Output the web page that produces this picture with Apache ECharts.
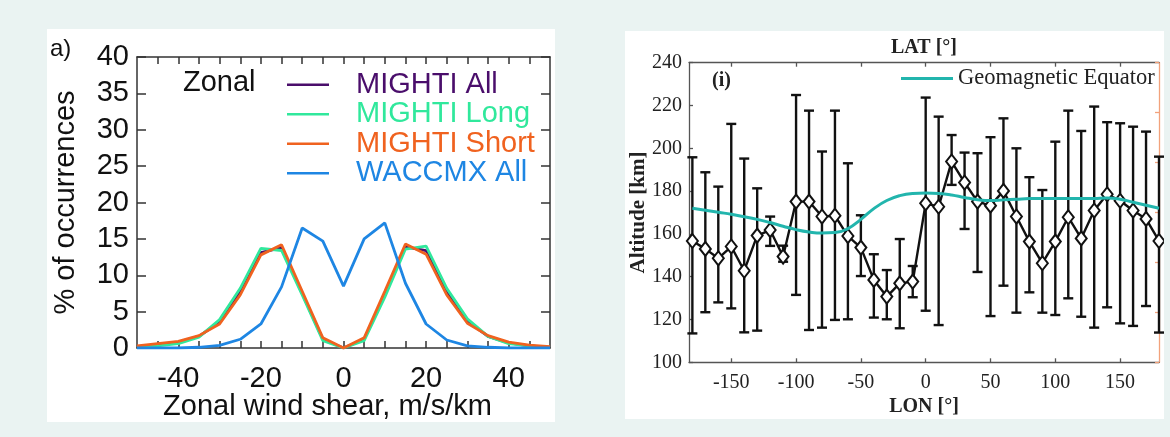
<!DOCTYPE html>
<html>
<head>
<meta charset="utf-8">
<script src="https://cdn.jsdelivr.net/npm/echarts@6/dist/echarts.min.js"></script>
<style>
  html, body { margin: 0; padding: 0; }
  body { width: 1170px; height: 437px; background: #eaf3f2; position: relative; overflow: hidden; }
  .panel { position: absolute; background: #ffffff; }
  #shear { left: 47px; top: 29px; width: 508px; height: 393px; }
  #alt { left: 625px; top: 31px; width: 539px; height: 388px; }
</style>
</head>
<body>
<div id="shear" class="panel"></div>
<div id="alt" class="panel"></div>
<script>
// ---- Panel a): distribution of zonal wind shear ----
const shearBins   = [-50, -45, -40, -35, -30, -25, -20, -15, -10, -5, 0, 5, 10, 15, 20, 25, 30, 35, 40, 45, 50];
const mightiAll   = [0.2, 0.4, 0.8, 1.6, 3.6, 7.8, 13.1, 13.8, 7.5, 1.2, 0.0, 1.2, 7.4, 13.9, 13.4, 7.8, 3.7, 1.6, 0.7, 0.3, 0.1];
const mightiLong  = [0.1, 0.3, 0.6, 1.5, 3.9, 8.2, 13.7, 13.4, 7.3, 1.0, 0.0, 1.0, 7.0, 13.6, 14.0, 8.2, 4.0, 1.6, 0.6, 0.3, 0.1];
const mightiShort = [0.3, 0.6, 0.9, 1.7, 3.3, 7.3, 12.8, 14.2, 7.8, 1.4, 0.0, 1.4, 7.8, 14.3, 12.9, 7.3, 3.4, 1.7, 0.8, 0.4, 0.2];
const waccmxAll   = [0.0, 0.0, 0.0, 0.1, 0.35, 1.2, 3.3, 8.4, 16.5, 14.7, 8.5, 15.0, 17.2, 8.9, 3.3, 1.1, 0.3, 0.1, 0.0, 0.0, 0.0];
const shearLabels = [-40, -20, 0, 20, 40];
const shearTicks  = [-45, -40, -35, -30, -25, -20, -15, -10, -5, 0, 5, 10, 15, 20, 25, 30, 35, 40, 45];
const pctLabels   = [0, 5, 10, 15, 20, 25, 30, 35, 40];

// ---- Panel (i): altitude versus longitude ----
const lonBins  = [-180, -170, -160, -150, -140, -130, -120, -110, -100, -90, -80, -70, -60, -50, -40, -30, -20, -10,
                  0, 10, 20, 30, 40, 50, 60, 70, 80, 90, 100, 110, 120, 130, 140, 150, 160, 170, 180];
const altMean  = [156.7, 153.0, 148.6, 154.1, 142.8, 159.2, 161.8, 149.4, 175.1, 175.1, 168.1, 168.5, 159.0, 153.6, 138.5, 130.7, 136.9, 137.7,
                  174.3, 172.7, 193.8, 184.0, 175.1, 173.2, 180.1, 168.1, 156.4, 146.3, 156.4, 167.8, 157.9, 170.9, 178.5, 175.5, 170.9, 167.0, 156.7];
const altUpper = [195.8, 188.8, 182.1, 211.4, 195.2, 181.3, 168.1, 154.5, 224.9, 217.6, 198.5, 217.6, 193.0, 168.7, 150.5, 143.1, 157.6, 145.0,
                  223.7, 214.8, 206.2, 198.0, 197.7, 205.2, 214.0, 200.0, 186.5, 180.5, 203.1, 217.6, 208.1, 219.5, 212.2, 211.7, 210.1, 207.8, 196.1];
const altLower = [113.5, 123.4, 128.0, 125.2, 114.0, 114.8, 154.4, 147.0, 131.5, 115.1, 116.2, 119.8, 120.1, 140.3, 120.9, 120.1, 115.9, 130.4,
                  124.1, 117.4, 182.9, 162.3, 142.2, 121.6, 135.8, 123.2, 132.7, 123.2, 122.1, 129.9, 121.3, 116.2, 125.7, 118.2, 117.0, 126.3, 113.9];
const geoEquator = [172.0, 171.1, 170.1, 169.2, 168.0, 166.8, 165.3, 163.6, 162.0, 160.9, 160.4, 160.6, 162.5, 166.8, 171.8, 175.6, 177.9, 178.9,
                    179.1, 178.9, 178.2, 177.0, 176.0, 175.6, 175.9, 176.2, 176.5, 176.6, 176.6, 176.6, 176.5, 176.6, 176.8, 176.2, 174.8, 173.4, 172.0];
const lonLabels = [-150, -100, -50, 0, 50, 100, 150];
const rightTicks = [0, 1, 2, 3, 4, 5, 6];

const zip = (xs, ys) => xs.map((x, i) => [x, ys[i]]);

// ===== panel a) =====
const sans = '"Liberation Sans", Arial, Helvetica, sans-serif';
const frame = { color: '#333333', width: 1.5 };
const shearColors = { all: '#4a0e6b', long: '#30e89c', short: '#f0621f', waccmx: '#1e86e3' };

function boxAxis(base) {
  return Object.assign({
    type: 'value',
    nameMoveOverlap: false,
    axisLine: { show: true, onZero: false, lineStyle: frame },
    splitLine: { show: false }
  }, base);
}

const shearChart = echarts.init(document.getElementById('shear'), null, { renderer: 'canvas' });
shearChart.setOption({
  animation: false,
  textStyle: { fontFamily: sans },
  grid: { left: 90, right: 5, top: 28, bottom: 74, outerBoundsMode: 'none', containLabel: false },
  xAxis: [
    boxAxis({
      position: 'bottom', min: -50, max: 50,
      axisTick: { inside: true, length: 7, customValues: shearTicks, lineStyle: frame },
      axisLabel: { customValues: shearLabels, fontSize: 29, color: '#111', margin: 16 },
      name: 'Zonal wind shear, m/s/km', nameLocation: 'middle', nameGap: 44,
      nameTextStyle: { fontSize: 29, color: '#111', padding: [0, 32, 0, 0] }
    }),
    boxAxis({
      position: 'top', min: -50, max: 50,
      axisTick: { inside: true, length: 7, customValues: shearTicks, lineStyle: frame },
      axisLabel: { show: false }
    })
  ],
  yAxis: [
    boxAxis({
      position: 'left', min: 0, max: 40, interval: 5,
      axisTick: { inside: true, length: 9, lineStyle: frame },
      axisLabel: { customValues: pctLabels, fontSize: 29, color: '#111', margin: 8, showMinLabel: true, showMaxLabel: true },
      name: '% of occurrences', nameLocation: 'middle', nameGap: 57, nameRotate: 90,
      nameTextStyle: { fontSize: 29, color: '#111' }
    }),
    boxAxis({
      position: 'right', min: 0, max: 40, interval: 5,
      axisTick: { inside: true, length: 9, lineStyle: frame },
      axisLabel: { show: false }
    })
  ],
  legend: {
    orient: 'vertical', left: 240, top: 41, padding: 0, itemGap: 0,
    icon: 'rect', itemWidth: 42, itemHeight: 2.5,
    textStyle: { fontSize: 29, lineHeight: 29.5, padding: [0, 0, 0, 22] },
    data: [
      { name: 'MIGHTI All', textStyle: { color: shearColors.all } },
      { name: 'MIGHTI Long', textStyle: { color: shearColors.long } },
      { name: 'MIGHTI Short', textStyle: { color: shearColors.short } },
      { name: 'WACCMX All', textStyle: { color: shearColors.waccmx } }
    ]
  },
  graphic: [
    { type: 'text', left: 3, top: 8, style: { text: 'a)', fontSize: 24, fontFamily: sans, fill: '#111' } },
    { type: 'text', left: 136, top: 39, style: { text: 'Zonal', fontSize: 29, fontFamily: sans, fill: '#111' } }
  ],
  series: [
    { name: 'MIGHTI All', color: shearColors.all, data: zip(shearBins, mightiAll) },
    { name: 'MIGHTI Long', color: shearColors.long, data: zip(shearBins, mightiLong) },
    { name: 'MIGHTI Short', color: shearColors.short, data: zip(shearBins, mightiShort) },
    { name: 'WACCMX All', color: shearColors.waccmx, data: zip(shearBins, waccmxAll) }
  ].map(s => Object.assign({ type: 'line', showSymbol: false, symbol: 'none', lineStyle: { width: 2.8 } }, s))
});

// ===== panel (i) =====
const serif = '"Liberation Serif", "Times New Roman", Times, serif';
const grayFrame = { color: '#555555', width: 1.3 };
const orangeFrame = { color: '#f2a27c', width: 1.3 };
const teal = '#22b5ad';

const altChart = echarts.init(document.getElementById('alt'), null, { renderer: 'canvas' });
altChart.setOption({
  animation: false,
  textStyle: { fontFamily: serif },
  grid: { left: 64, right: 5, top: 31.7, bottom: 56.7, outerBoundsMode: 'none', containLabel: false },
  xAxis: [
    {
      type: 'value', position: 'bottom', min: -182.6, max: 180, nameMoveOverlap: false,
      axisLine: { show: true, onZero: false, lineStyle: grayFrame },
      axisTick: { inside: true, length: 4, customValues: lonLabels, lineStyle: grayFrame },
      axisLabel: { customValues: lonLabels, fontSize: 20, color: '#222', margin: 10, fontFamily: serif },
      splitLine: { show: false },
      name: 'LON [°]', nameLocation: 'middle', nameGap: 35,
      nameTextStyle: { fontSize: 20, fontWeight: 'bold', color: '#222', fontFamily: serif }
    },
    {
      type: 'value', position: 'top', min: -182.6, max: 180, nameMoveOverlap: false,
      axisLine: { show: true, onZero: false, lineStyle: grayFrame },
      axisTick: { inside: true, length: 4, customValues: lonLabels, lineStyle: grayFrame },
      axisLabel: { show: false },
      splitLine: { show: false },
      name: 'LAT [°]', nameLocation: 'middle', nameGap: 5,
      nameTextStyle: { fontSize: 20, fontWeight: 'bold', color: '#222', fontFamily: serif }
    }
  ],
  yAxis: [
    {
      type: 'value', position: 'left', min: 100, max: 240, interval: 20, nameMoveOverlap: false,
      axisLine: { show: true, onZero: false, lineStyle: grayFrame },
      axisTick: { inside: true, length: 4, lineStyle: grayFrame },
      axisLabel: { fontSize: 20, color: '#222', margin: 7, fontFamily: serif },
      splitLine: { show: false },
      name: 'Altitude [km]', nameLocation: 'middle', nameGap: 40, nameRotate: 90,
      nameTextStyle: { fontSize: 21, fontWeight: 'bold', color: '#222', fontFamily: serif }
    },
    {
      type: 'value', position: 'right', min: 0, max: 6,
      axisLine: { show: true, onZero: false, lineStyle: orangeFrame },
      axisTick: { inside: true, length: 4, customValues: rightTicks, lineStyle: orangeFrame },
      axisLabel: { show: false },
      splitLine: { show: false }
    }
  ],
  legend: {
    data: ['Geomagnetic Equator'], left: 276, top: 36, padding: 0,
    icon: 'rect', itemWidth: 52, itemHeight: 3, itemGap: 0,
    textStyle: { fontSize: 22.5, color: '#222', fontFamily: serif, lineHeight: 22 }
  },
  graphic: [
    { type: 'text', left: 87, top: 40, style: { text: '(i)', fontSize: 20, fontWeight: 'bold', fontFamily: serif, fill: '#222' } }
  ],
  series: [
    {
      name: 'spread', type: 'custom', z: 2,
      data: lonBins.map((lon, i) => [lon, altLower[i], altUpper[i]]),
      encode: { x: 0, y: [1, 2] },
      renderItem: function (params, api) {
        const lon = api.value(0);
        const top = api.coord([lon, api.value(2)]);
        const bot = api.coord([lon, api.value(1)]);
        const half = 5;
        const st = { stroke: '#111', lineWidth: 2.4 };
        return {
          type: 'group',
          children: [
            { type: 'line', shape: { x1: top[0], y1: top[1], x2: bot[0], y2: bot[1] }, style: st },
            { type: 'line', shape: { x1: top[0] - half, y1: top[1], x2: top[0] + half, y2: top[1] }, style: st },
            { type: 'line', shape: { x1: bot[0] - half, y1: bot[1], x2: bot[0] + half, y2: bot[1] }, style: st }
          ]
        };
      }
    },
    {
      name: 'Altitude', type: 'line', z: 3,
      data: zip(lonBins, altMean),
      symbol: 'diamond', symbolSize: [11, 14], showSymbol: true,
      lineStyle: { color: '#111', width: 2.4 },
      itemStyle: { color: '#ffffff', borderColor: '#111', borderWidth: 2 }
    },
    {
      name: 'Geomagnetic Equator', type: 'line', z: 4,
      data: zip(lonBins, geoEquator), smooth: true, showSymbol: false, symbol: 'none',
      color: teal, lineStyle: { color: teal, width: 3 }
    }
  ]
});
</script>
</body>
</html>
